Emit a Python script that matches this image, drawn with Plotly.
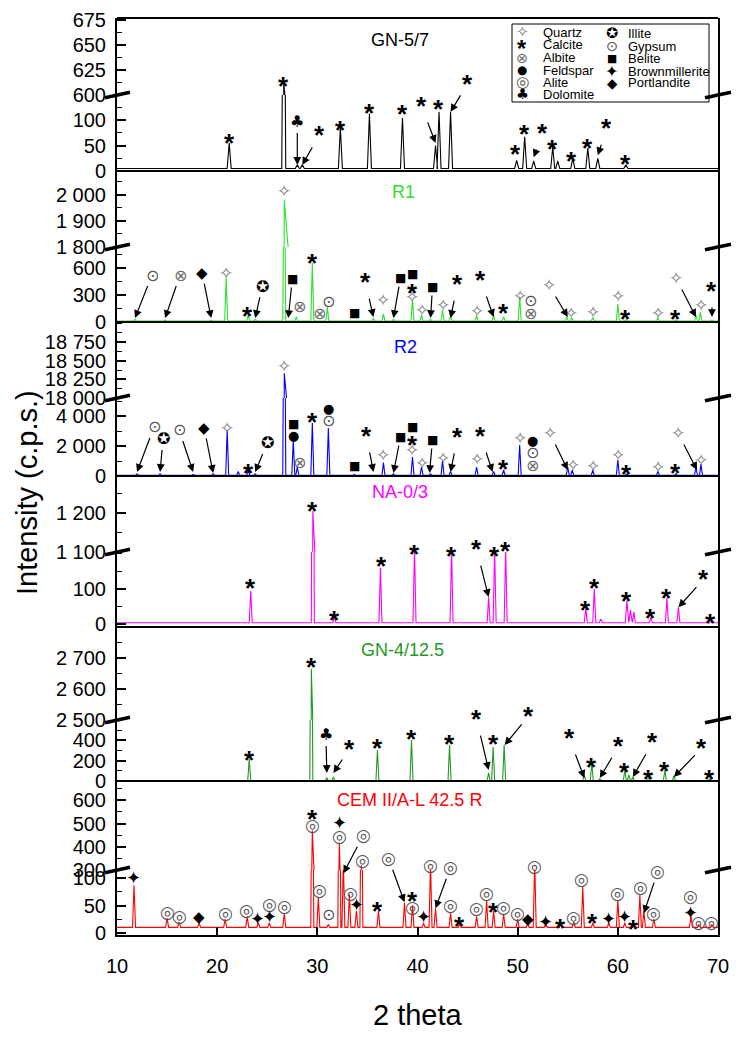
import plotly.graph_objects as go

# ------------------------------------------------------------------ data
theta_ticks = [10, 20, 30, 40, 50, 60, 70]

# GN-5/7
gn57_pos = [21.2, 26.65, 28.0, 28.5, 32.3, 35.2, 38.5, 41.8, 42.15, 43.3, 49.9, 50.7, 51.6, 53.5, 54.0, 55.5, 57.0, 58.0, 60.8]
gn57_int = [55, 612, 12, 12, 85, 112, 104, 50, 116, 116, 21, 67, 20, 47, 20, 25, 45, 25, 12]
gn57_base = 5

# R1
r1_pos = [11.8, 14.8, 19.4, 20.9, 23.1, 23.8, 26.7, 27.9, 29.5, 31.0, 35.6, 36.6, 37.6, 39.5, 40.4, 41.3, 42.5, 43.3,
          45.9, 47.6, 48.6, 50.2, 54.9, 55.4, 57.5, 60.0, 60.8, 64.0, 65.8, 67.8, 68.25, 69.4]
r1_int = [30, 20, 20, 500, 78, 30, 1980, 60, 655, 167, 40, 90, 30, 244, 80, 30, 133, 70,
          70, 70, 60, 280, 60, 45, 50, 200, 25, 50, 20, 80, 110, 20]
r1_base = 10

# R2
r2_pos = [12.0, 14.3, 17.6, 19.6, 21.0, 22.1, 23.1, 23.8, 26.7, 27.6, 28.0, 29.5, 31.1, 33.7, 36.6, 37.6, 39.5, 40.4,
          41.3, 42.5, 43.3, 45.9, 47.6, 48.6, 50.2, 55.0, 55.45, 57.5, 60.0, 60.9, 64.0, 65.8, 67.8, 68.3]
r2_int = [150, 150, 100, 150, 3070, 300, 400, 150, 18330, 2400, 600, 3530, 3200, 100, 900, 150, 1270, 600,
          150, 1000, 300, 600, 300, 400, 2070, 600, 400, 400, 1070, 150, 300, 150, 600, 800]
r2_base = 40

# NA-0/3
na_pos = [23.35, 29.55, 31.7, 36.3, 39.7, 43.4, 47.1, 47.7, 48.8, 56.8, 57.65, 58.3, 60.9, 61.25, 61.6, 63.3, 64.9, 66.05, 69.3]
na_int = [94, 1205, 20, 160, 215, 215, 77, 215, 215, 45, 100, 15, 67, 40, 35, 20, 75, 48, 15]
na_base = 4

# GN-4/12.5
gn4_pos = [23.2, 29.4, 30.95, 31.6, 36.0, 39.4, 43.2, 47.1, 47.55, 48.65, 56.65, 57.4, 58.2, 60.7, 61.1, 61.5, 63.1,
           64.7, 65.6, 69.2]
gn4_int = [216, 2665, 30, 40, 305, 403, 354, 80, 335, 354, 60, 177, 20, 108, 60, 40, 40, 108, 50, 20]
gn4_base = 5

# CEM II/A-L 42.5 R
cem_pos = [11.7, 15.0, 16.2, 18.2, 20.8, 23.0, 24.1, 25.2, 26.7, 29.5, 30.1, 31.1, 32.2, 32.6, 33.2, 33.9, 34.4, 36.1,
           38.7, 39.5, 40.6, 41.3, 41.8, 43.3, 44.2, 45.9, 46.9, 47.6, 48.6, 50.0, 51.0, 51.7, 52.8, 54.3, 55.6, 56.5,
           57.5, 59.1, 60.0, 60.7, 61.6, 62.2, 62.6, 63.6, 67.3, 68.1, 69.4]
cem_int = [87, 27, 20, 18, 25, 30, 18, 18, 35, 470, 64, 15, 417, 130, 70, 40, 320, 40,
           55, 50, 18, 130, 45, 36, 16, 30, 60, 40, 35, 25, 18, 130, 16, 16, 20, 84,
           18, 18, 60, 18, 16, 69, 40, 25, 30, 15, 15]
cem_base = 10

# peak labels: (phase, 2theta, intensity, arrow dx px, arrow dy px)
gn57_lab = [('C', 21.2, 67, 0, 0), ('C', 26.65, 615, 0, 0), ('C', 32.3, 92, 0, 0), ('C', 35.2, 125, 0, 0),
            ('C', 38.5, 124, 0, 0), ('C', 42.1, 133, 0, 0), ('C', 49.8, 45, 0, 0), ('C', 50.7, 84, 0, 0),
            ('C', 53.5, 55, 0, 0), ('C', 55.4, 31, 0, 0), ('C', 57.0, 57, 0, 0), ('C', 60.8, 25, 0, 0),
            ('D', 28.0, 12, 0, -43), ('C', 28.5, 12, 17, -36), ('C', 41.8, 55, -14, -43),
            ('C', 43.3, 116, 17, -34), ('C', 51.6, 27, 9, -30), ('C', 58.0, 31, 9, -33)]

r1_lab = [('Q', 20.9, 544, 0, 0), ('C', 23.0, 133, 0, 0), ('Q', 26.7, 2016, 0, 0), ('Ab', 28.2, 167, 0, 0),
          ('C', 29.5, 721, 0, 0), ('Ab', 30.2, 100, 0, 0), ('G', 31.1, 233, 0, 0), ('B', 33.7, 100, 0, 0),
          ('Q', 36.6, 244, 0, 0), ('B', 39.5, 533, 0, 0), ('C', 39.5, 389, 0, 0), ('Q', 39.5, 278, 0, 0),
          ('Q', 40.4, 133, 0, 0), ('Q', 42.5, 189, 0, 0), ('Q', 45.9, 122, 0, 0), ('C', 48.6, 167, 0, 0),
          ('Q', 50.2, 289, 0, 0), ('G', 51.3, 244, 0, 0), ('Ab', 51.3, 100, 0, 0), ('Q', 55.3, 100, 0, 0),
          ('Q', 57.5, 111, 0, 0), ('Q', 60.0, 289, 0, 0), ('C', 60.8, 100, 0, 0), ('Q', 64.0, 100, 0, 0),
          ('C', 65.8, 100, 0, 0), ('Q', 68.3, 189, 0, 0),
          ('G', 11.8, 44, 17, -43), ('Ab', 14.8, 44, 15, -43), ('P', 19.4, 44, -9, -45), ('I', 23.8, 44, 7, -32),
          ('B', 27.1, 44, 4, -39), ('C', 35.6, 55, -8, -41), ('B', 37.6, 44, 7, -40), ('B', 41.3, 44, 2, -31),
          ('C', 43.3, 44, 7, -40), ('C', 47.6, 55, -13, -43), ('Q', 55.0, 55, -19, -32), ('Q', 67.8, 55, -20, -39),
          ('C', 69.4, 55, 0, -32)]

r2_lab = [('Q', 21.0, 3200, 0, 0), ('C', 23.1, 600, 0, 0), ('Q', 26.7, 18430, 0, 0), ('B', 27.6, 3470, 0, 0),
          ('F', 27.6, 2730, 0, 0), ('Ab', 28.2, 930, 0, 0), ('C', 29.5, 4000, 0, 0), ('F', 31.1, 4470, 0, 0),
          ('G', 31.1, 3670, 0, 0), ('B', 33.7, 670, 0, 0), ('Q', 36.6, 1400, 0, 0), ('B', 39.5, 3270, 0, 0),
          ('C', 39.5, 2470, 0, 0), ('Q', 39.5, 1730, 0, 0), ('Q', 40.4, 870, 0, 0), ('Q', 42.5, 1200, 0, 0),
          ('Q', 45.9, 1130, 0, 0), ('C', 48.6, 870, 0, 0), ('Q', 50.2, 2530, 0, 0), ('F', 51.5, 2400, 0, 0),
          ('G', 51.5, 1600, 0, 0), ('Ab', 51.5, 730, 0, 0), ('Q', 55.5, 730, 0, 0), ('Q', 57.5, 670, 0, 0),
          ('Q', 60.0, 1400, 0, 0), ('C', 60.9, 530, 0, 0), ('Q', 64.0, 600, 0, 0), ('C', 65.8, 600, 0, 0),
          ('Q', 68.3, 1070, 0, 0),
          ('G', 12.0, 270, 17, -45), ('I', 14.3, 270, 3, -33), ('G', 17.6, 270, -14, -42), ('P', 19.6, 200, -9, -45),
          ('I', 23.8, 270, 12, -29), ('C', 35.6, 270, -7, -42), ('B', 37.6, 200, 7, -36), ('B', 41.2, 200, 3, -33),
          ('C', 43.3, 270, 7, -41), ('C', 47.5, 270, -12, -42), ('Q', 55.0, 400, -18, -37), ('Q', 67.9, 400, -19, -37)]

na_lab = [('C', 23.35, 119, 0, 0), ('C', 29.55, 1220, 0, 0), ('C', 31.7, 28, 0, 0), ('C', 36.4, 182, 0, 0),
          ('C', 39.7, 1110, 0, 0), ('C', 43.4, 1105, 0, 0), ('C', 47.7, 1105, 0, 0), ('C', 48.8, 1118, 0, 0),
          ('C', 56.8, 57, 0, 0), ('C', 57.7, 119, 0, 0), ('C', 60.85, 82, 0, 0), ('C', 63.3, 34, 0, 0),
          ('C', 64.9, 91, 0, 0), ('C', 69.3, 20, 0, 0), ('C', 47.1, 77, -12, -54), ('C', 66.05, 48, 25, -34)]

gn4_lab = [('C', 23.2, 266, 0, 0), ('C', 29.4, 2690, 0, 0), ('C', 36.0, 384, 0, 0), ('C', 39.4, 472, 0, 0),
           ('C', 43.2, 423, 0, 0), ('C', 47.6, 423, 0, 0), ('C', 57.4, 197, 0, 0), ('C', 60.7, 148, 0, 0),
           ('C', 63.1, 79, 0, 0), ('C', 64.7, 157, 0, 0), ('C', 69.2, 79, 0, 0),
           ('D', 30.95, 79, -1, -38), ('C', 31.6, 79, 16, -30), ('C', 47.1, 108, -12, -57), ('C', 48.7, 354, 24, -35),
           ('C', 56.65, 30, -15, -46), ('C', 58.2, 30, 19, -38), ('C', 61.5, 40, 20, -41), ('C', 65.6, 40, 28, -35)]

cem_lab = [('Br', 11.6, 102, 0, 0), ('A', 15.0, 38, 0, 0), ('A', 16.2, 31, 0, 0), ('P', 18.2, 29, 0, 0),
           ('A', 20.8, 36, 0, 0), ('A', 22.9, 42, 0, 0), ('Br', 24.0, 27, 0, 0), ('A', 25.2, 53, 0, 0),
           ('Br', 25.2, 29, 0, 0), ('A', 26.7, 49, 0, 0), ('C', 29.5, 545, 0, 0), ('A', 29.5, 494, 0, 0),
           ('A', 30.2, 78, 0, 0), ('G', 31.1, 33, 0, 0), ('Br', 32.2, 506, 0, 0), ('A', 32.2, 446, 0, 0),
           ('A', 33.3, 73, 0, 0), ('Br', 33.9, 51, 0, 0), ('A', 34.5, 343, 0, 0), ('C', 36.0, 51, 0, 0),
           ('C', 39.5, 69, 0, 0), ('A', 39.5, 47, 0, 0), ('Br', 40.6, 29, 0, 0), ('A', 41.3, 321, 0, 0),
           ('A', 43.3, 51, 0, 0), ('C', 44.2, 24, 0, 0), ('A', 45.9, 45, 0, 0), ('A', 46.9, 73, 0, 0),
           ('C', 47.6, 49, 0, 0), ('A', 48.6, 47, 0, 0), ('A', 50.0, 36, 0, 0), ('P', 51.0, 25, 0, 0),
           ('A', 51.7, 317, 0, 0), ('Br', 52.8, 20, 0, 0), ('C', 54.3, 20, 0, 0), ('A', 55.6, 29, 0, 0),
           ('A', 56.4, 98, 0, 0), ('C', 57.5, 29, 0, 0), ('Br', 59.1, 27, 0, 0), ('A', 60.0, 73, 0, 0),
           ('Br', 60.7, 29, 0, 0), ('C', 61.6, 18, 0, 0), ('A', 62.3, 84, 0, 0), ('A', 63.6, 36, 0, 0),
           ('A', 67.3, 67, 0, 0), ('Br', 67.3, 38, 0, 0), ('A', 68.1, 20, 0, 0), ('A', 69.4, 20, 0, 0),
           ('A', 32.6, 109, 20, -38), ('A', 38.7, 56, -16, -44), ('A', 41.8, 45, 15, -41), ('A', 62.6, 36, 14, -42)]

legend_col1 = [('Q', 'Quartz'), ('C', 'Calcite'), ('Ab', 'Albite'), ('F', 'Feldspar'), ('A', 'Alite'), ('D', 'Dolomite')]
legend_col2 = [('I', 'Illite'), ('G', 'Gypsum'), ('B', 'Belite'), ('Br', 'Brownmillerite'), ('P', 'Portlandite')]

# ------------------------------------------------------------------ styles
FONT = "Liberation Sans"
SYMF = "DejaVu Sans"
SYM = {  # glyph, colour, size, font, vertical fix (px)
    'Q': ('✧', '#7a7a7a', 17, SYMF, 0),
    'C': ('<b>*</b>', 'black', 26, FONT, -6),
    'Ab': ('⊗', '#6e6e6e', 16, SYMF, 0),
    'F': ('●', 'black', 13, SYMF, 0),
    'A': ('◎', '#555555', 17, SYMF, 0),
    'D': ('♣', 'black', 16, SYMF, 0),
    'I': ('✪', 'black', 16, SYMF, 0),
    'G': ('⊙', '#555555', 16, SYMF, 0),
    'B': ('■', 'black', 12, SYMF, 0),
    'Br': ('✦', 'black', 18, SYMF, 0),
    'P': ('◆', 'black', 15, SYMF, 0),
}

OFF = 8                      # page offset of the plotly div
W, H = 733, 1029
ML, MR, MT, MB = 109, 23, 10, 102
PW, PH = W - ML - MR, H - MT - MB


def yp(py):  # page pixel -> paper
    return (H - MB - (py - OFF)) / PH


def xp(px):
    return (px - OFF - ML) / PW


panels = [
    dict(title='GN-5/7', tcol='black', pos=gn57_pos, ints=gn57_int, base=gn57_base, color='black', hw=0.2,
         lab=gn57_lab, top=18, brk=95, bot=171, lo=[0, 149], hi=[599.9, 677], lot=[0, 50, 100],
         hit=[600, 625, 650, 675], lom=25, him=12.5, tpos=(400, 40)),
    dict(title='R1', tcol='#2fe02f', pos=r1_pos, ints=r1_int, base=r1_base, color='#2fe02f', hw=0.15,
         lab=r1_lab, top=171, brk=247, bot=322, lo=[0, 833], hi=[1799.9, 2092], lot=[0, 300, 600],
         hit=[1800, 1900, 2000], lom=150, him=50, tpos=(403, 192)),
    dict(title='R2', tcol='#0000ff', pos=r2_pos, ints=r2_int, base=r2_base, color='#0000ff', hw=0.15,
         lab=r2_lab, top=322, brk=398, bot=476, lo=[0, 5200], hi=[17999, 19020], lot=[0, 2000, 4000],
         hit=[18000, 18250, 18500, 18750], lom=1000, him=125, tpos=(405, 347)),
    dict(title='NA-0/3', tcol='#ff00ff', pos=na_pos, ints=na_int, base=na_base, color='#ff00ff', hw=0.15,
         lab=na_lab, top=476, brk=552, bot=627, lo=[-8, 205], hi=[1099.9, 1295], lot=[0, 100],
         hit=[1100, 1200], lom=50, him=50, tpos=(400, 492)),
    dict(title='GN-4/12.5', tcol='#229922', pos=gn4_pos, ints=gn4_int, base=gn4_base, color='#229922', hw=0.15,
         lab=gn4_lab, top=627, brk=720, bot=781, lo=[0, 600], hi=[2499.9, 2800], lot=[0, 200, 400],
         hit=[2500, 2600, 2700], lom=100, him=50, tpos=(402, 650)),
    dict(title='CEM II/A-L 42.5 R', tcol='#ff0000', pos=cem_pos, ints=cem_int, base=cem_base, color='#ff0000',
         hw=0.15, lab=cem_lab, top=781, brk=870, bot=935, lo=[-4, 115], hi=[299.9, 683], lot=[0, 50, 100],
         hit=[300, 400, 500, 600], lom=25, him=50, tpos=(409, 800)),
]


def profile(pos, ints, base, hw):
    xs, ys = [10.0], [base]
    for p, h in sorted(zip(pos, ints)):
        xs += [p - hw, p, p + hw]
        ys += [base, h, base]
    xs.append(70.0)
    ys.append(base)
    return xs, ys


fig = go.Figure()
annotations = []
shapes = []
layout_axes = {}

for i, pn in enumerate(panels):
    lo_n, hi_n = 2 * i + 1, 2 * i + 2
    lo_ref = 'y' if lo_n == 1 else f'y{lo_n}'
    hi_ref = f'y{hi_n}'
    xs, ys = profile(pn['pos'], pn['ints'], pn['base'], pn['hw'])
    for ref in (lo_ref, hi_ref):
        fig.add_trace(go.Scatter(x=xs, y=ys, mode='lines', xaxis='x', yaxis=ref,
                                 line=dict(color=pn['color'], width=1.1), showlegend=False, hoverinfo='skip'))
    common = dict(anchor='x', showline=True, linecolor='black', linewidth=2, mirror=True, ticks='inside',
                  ticklen=9, tickwidth=1.5, tickcolor='black', showgrid=False, zeroline=False,
                  tickformat=',d', tickfont=dict(family=FONT, size=20, color='black'),
                  ticklabelstandoff=5)
    layout_axes['yaxis' if lo_n == 1 else f'yaxis{lo_n}'] = dict(
        common, domain=[yp(pn['bot']), yp(pn['brk'])], range=pn['lo'], tickmode='array', tickvals=pn['lot'],
        minor=dict(ticks='inside', ticklen=5, tickwidth=1.2, tickcolor='black', dtick=pn['lom'], tick0=0,
                   showgrid=False))
    layout_axes[f'yaxis{hi_n}'] = dict(
        common, domain=[yp(pn['brk']), yp(pn['top'])], range=pn['hi'], tickmode='array', tickvals=pn['hit'],
        minor=dict(ticks='inside', ticklen=5, tickwidth=1.2, tickcolor='black', dtick=pn['him'], tick0=0,
                   showgrid=False))

    # labels
    for ph, x, y, ax, ay in pn['lab']:
        g, col, sz, fam, fix = SYM[ph]
        ref = lo_ref if y <= pn['lo'][1] else hi_ref
        if ax == 0 and ay == 0:
            annotations.append(dict(x=x, y=y, xref='x', yref=ref, text=g, showarrow=False, yshift=fix,
                                    xanchor='center', yanchor='middle',
                                    font=dict(family=fam, size=sz, color=col)))
        else:
            annotations.append(dict(x=x, y=y, xref='x', yref=ref, text=g, showarrow=True, ax=ax, ay=ay - fix,
                                    arrowhead=2, arrowsize=1.3, arrowwidth=1.2, arrowcolor='black',
                                    font=dict(family=fam, size=sz, color=col)))

    # title
    annotations.append(dict(x=xp(pn['tpos'][0]), y=yp(pn['tpos'][1]), xref='paper', yref='paper',
                            text=pn['title'], showarrow=False, xanchor='center', yanchor='middle',
                            font=dict(family=FONT, size=18, color=pn['tcol'])))

    # panel separator (top)
    shapes.append(dict(type='line', xref='paper', yref='paper', x0=0, x1=1, y0=yp(pn['top']), y1=yp(pn['top']),
                       line=dict(color='black', width=2)))
    # break marks
    yb = yp(pn['brk'])
    d = 2.7 / PH
    for x0, x1 in ((xp(105), xp(130)), (xp(705), xp(731))):
        shapes.append(dict(type='line', xref='paper', yref='paper', x0=x0, x1=x1, y0=yb - d, y1=yb + d,
                           line=dict(color='black', width=3.5)))

# legend box
shapes.append(dict(type='rect', xref='paper', yref='paper', x0=xp(512), x1=xp(709), y0=yp(102), y1=yp(24),
                   line=dict(color='black', width=1), fillcolor='rgba(0,0,0,0)'))
rows1 = [32, 45, 58, 70, 82, 94]
rows2 = [33, 46, 59, 71, 83]
for (ph, name), ry in zip(legend_col1, rows1):
    g, col, sz, fam, fix = SYM[ph]
    annotations.append(dict(x=xp(522), y=yp(ry), xref='paper', yref='paper', text=g, showarrow=False,
                            xanchor='center', yanchor='middle',
                            yshift=fix * 0.7, font=dict(family=fam, size=sz * 0.9, color=col)))
    annotations.append(dict(x=xp(541), y=yp(ry), xref='paper', yref='paper', text=name, showarrow=False,
                            xanchor='left', yanchor='middle', font=dict(family=FONT, size=13, color='black')))
for (ph, name), ry in zip(legend_col2, rows2):
    g, col, sz, fam, fix = SYM[ph]
    annotations.append(dict(x=xp(612), y=yp(ry), xref='paper', yref='paper', text=g, showarrow=False,
                            xanchor='center', yanchor='middle',
                            yshift=fix * 0.7, font=dict(family=fam, size=sz * 0.9, color=col)))
    annotations.append(dict(x=xp(626), y=yp(ry), xref='paper', yref='paper', text=name, showarrow=False,
                            xanchor='left', yanchor='middle', font=dict(family=FONT, size=13, color='black')))

# axis titles
annotations.append(dict(x=xp(27), y=yp(493), xref='paper', yref='paper', text='Intensity (c.p.s.)',
                        textangle=-90, showarrow=False, xanchor='center', yanchor='middle',
                        font=dict(family=FONT, size=29, color='black')))
annotations.append(dict(x=xp(418), y=yp(1015), xref='paper', yref='paper', text='2 theta',
                        showarrow=False, xanchor='center', yanchor='middle',
                        font=dict(family=FONT, size=29, color='black')))

fig.update_layout(
    width=W, height=H, margin=dict(l=ML, r=MR, t=MT, b=MB, autoexpand=False),
    paper_bgcolor='white', plot_bgcolor='white', separators='. ',
    xaxis=dict(range=[10, 70], domain=[0, 1], anchor='y11', tickmode='array', tickvals=theta_ticks,
               ticks='inside', ticklen=8, tickwidth=1.5, tickcolor='black', showline=True, linecolor='black',
               linewidth=2, showgrid=False, zeroline=False, ticklabelstandoff=12,
               tickfont=dict(family=FONT, size=20, color='black')),
    annotations=annotations, shapes=shapes, showlegend=False,
    **layout_axes,
)

fig.write_html("out.html")
